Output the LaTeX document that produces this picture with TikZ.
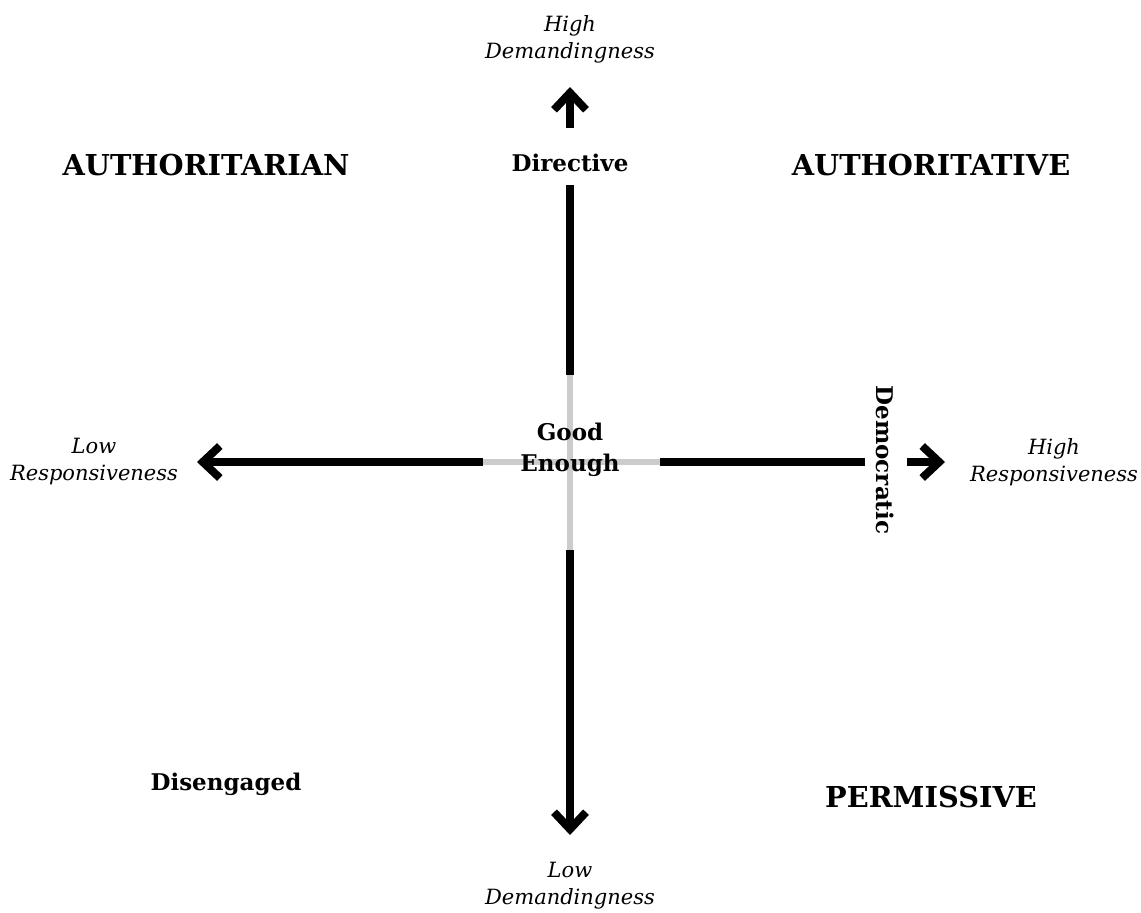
\documentclass[tikz,border=0pt]{standalone}
\usepackage{fontspec}
\setmainfont{DejaVu Serif}
\usetikzlibrary{arrows.meta}
\begin{document}
\begin{tikzpicture}[x=1pt,y=-1pt,
  axis/.style={line width=8pt, black},
  faint/.style={line width=6pt, black!20},
  tipped/.style={-{Straight Barb[length=17pt,width=32pt,line join=miter,line cap=butt]}},
  big/.style={font=\bfseries\fontsize{28.8}{32}\selectfont, inner sep=0pt},
  mid/.style={font=\bfseries\fontsize{23}{31}\selectfont, align=center, inner sep=0pt},
  pole/.style={font=\itshape\fontsize{21}{27}\selectfont, align=center, inner sep=0pt}]
\useasboundingbox (0,0) rectangle (1141,913);
% axis coordinates
\coordinate (vt) at (570,87);
\coordinate (v1) at (570,128);
\coordinate (v2) at (570,185);
\coordinate (v3) at (570,375);
\coordinate (v4) at (570,550);
\coordinate (vb) at (570,835);
\coordinate (hl) at (197,462);
\coordinate (h1) at (483,462);
\coordinate (h2) at (660,462);
\coordinate (h3) at (865,462);
\coordinate (h4) at (907,462);
\coordinate (hr) at (945,462);
% faint centre
\draw[faint] (v3) -- (v4);
\draw[faint] (h1) -- (h2);
% black axes
\draw[axis,tipped] (v1) -- (vt);
\draw[axis] (v2) -- (v3);
\draw[axis,tipped] (v4) -- (vb);
\draw[axis,tipped] (h1) -- (hl);
\draw[axis] (h2) -- (h3);
\draw[axis,tipped] (h4) -- (hr);
% labels
\node[pole] (hd) at (570,39) {High\\Demandingness};
\node[pole] (ld) at (570,886) {Low\\Demandingness};
\node[pole] (lr) at (94,462) {Low\\Responsiveness};
\node[pole] (hr2) at (1054,462) {High\\Responsiveness};
\node[mid] (dir) at (570,163) {Directive};
\node[mid] (ge) at (570,450) {Good\\Enough};
\node[mid, rotate=-90] (dem) at (885,460) {Democratic};
\node[mid] (dis) at (226,784) {Disengaged};
\node[big] (aut1) at (206,165) {AUTHORITARIAN};
\node[big] (aut2) at (931,165) {AUTHORITATIVE};
\node[big] (perm) at (931,797) {PERMISSIVE};
\end{tikzpicture}
\end{document}
